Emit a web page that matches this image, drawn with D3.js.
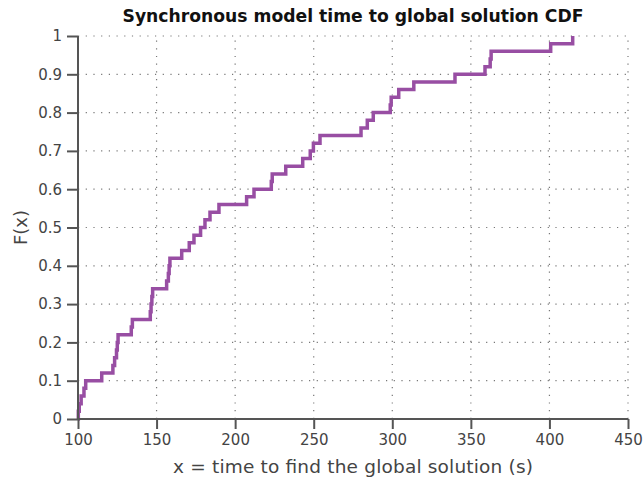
<!DOCTYPE html>
<html><head><meta charset="utf-8">
<script src="https://cdn.jsdelivr.net/npm/d3@7"></script>
<style>
html,body{margin:0;padding:0;background:#fff;}
svg{display:block;}
text{font-family:"DejaVu Sans","Liberation Sans",sans-serif;}
</style></head>
<body>
<svg id="chart" width="644" height="483"></svg>
<script>
// sorted sample values (s) of time to find the global solution
const times = [100.2, 100.8, 102, 103.8, 104.9, 115.1, 122.2, 123.3, 124.5, 125,
  125.5, 133.9, 134.6, 146, 146.5, 147, 147.5, 156.4, 157.5, 158,
  158.5, 166, 170.8, 173.8, 178, 180.8, 184, 189.7, 207.3, 212,
  223, 223.6, 232.2, 243, 247.8, 249.8, 254, 280.1, 284.1, 287.9,
  298.7, 299.3, 304.1, 313.7, 339.9, 359, 362.3, 362.9, 400.8, 414.8];
const xTicks = [100, 150, 200, 250, 300, 350, 400, 450];
const yTicks = [0, 0.1, 0.2, 0.3, 0.4, 0.5, 0.6, 0.7, 0.8, 0.9, 1];
const yTickLabels = ["0", "0.1", "0.2", "0.3", "0.4", "0.5", "0.6", "0.7", "0.8", "0.9", "1"];
const title = "Synchronous model time to global solution CDF";
const xLabel = "x = time to find the global solution (s)";
const yLabel = "F(x)";

const svg = d3.select("#chart");
const m = {left: 78, right: 16, top: 36, bottom: 64};
const W = 644, H = 483;
const x = d3.scaleLinear().domain([100, 450]).range([m.left, W - m.right]);
const y = d3.scaleLinear().domain([0, 1]).range([H - m.bottom, m.top]);

const axisColor = "#555";
const gridColor = "#777";

// grid
const grid = svg.append("g");
grid.selectAll(".gx").data(xTicks.slice(1)).enter().append("line")
  .attr("x1", d => x(d)).attr("x2", d => x(d))
  .attr("y1", y(0)).attr("y2", y(1))
  .attr("stroke", gridColor).attr("stroke-width", 1.2).attr("stroke-dasharray", "1.2,6.5");
grid.selectAll(".gy").data(yTicks.slice(1)).enter().append("line")
  .attr("x1", x(100)).attr("x2", x(450))
  .attr("y1", d => y(d)).attr("y2", d => y(d))
  .attr("stroke", gridColor).attr("stroke-width", 1.2).attr("stroke-dasharray", "1.2,6.5");

// data: empirical CDF
const n = times.length;
const pts = [[x.domain()[0], 0]].concat(times.map((t, i) => [t, (i + 1) / n]));
const line = d3.line().x(d => x(d[0])).y(d => y(d[1])).curve(d3.curveStepAfter);
svg.append("path").datum(pts).attr("d", line)
  .attr("fill", "none").attr("stroke", "#984ea3").attr("stroke-width", 3.5)
  .attr("stroke-linejoin", "miter").attr("stroke-linecap", "butt");

// axes
const xAxis = d3.axisBottom(x).tickValues(xTicks).tickSize(10).tickPadding(5).tickFormat(d3.format("d"));
const gx = svg.append("g").attr("transform", `translate(0,${y(0)})`).call(xAxis);
const yAxis = d3.axisLeft(y).tickValues(yTicks).tickSize(11).tickPadding(5).tickFormat((d, i) => yTickLabels[i]);
const gy = svg.append("g").attr("transform", `translate(${x(100)},0)`).call(yAxis);
[gx, gy].forEach(g => {
  g.select(".domain").attr("stroke", axisColor).attr("stroke-width", 2);
  g.selectAll(".tick line").attr("stroke", axisColor).attr("stroke-width", 2);
  g.selectAll(".tick text").attr("fill", "#444").style("font-size", "15px")
    .style("font-family", '"DejaVu Sans", sans-serif');
});
gx.select(".domain").attr("d", `M${x(100)},0H${x(450)}`);
gy.select(".domain").attr("d", `M0,${y(0)}V${y(1)}`);

// labels
svg.append("text").attr("x", (x(100) + x(450)) / 2).attr("y", 22)
  .attr("text-anchor", "middle").attr("font-weight", "bold").attr("font-size", "17.2px")
  .attr("fill", "#111").text(title);
svg.append("text").attr("x", (x(100) + x(450)) / 2).attr("y", 473)
  .attr("text-anchor", "middle").attr("font-size", "18.5px").attr("fill", "#444")
  .attr("textLength", 360).attr("lengthAdjust", "spacing").text(xLabel);
svg.append("text").attr("transform", `translate(27,${(y(0) + y(1)) / 2}) rotate(-90)`)
  .attr("text-anchor", "middle").attr("font-size", "18px").attr("fill", "#444").text(yLabel);
</script>
</body></html>
